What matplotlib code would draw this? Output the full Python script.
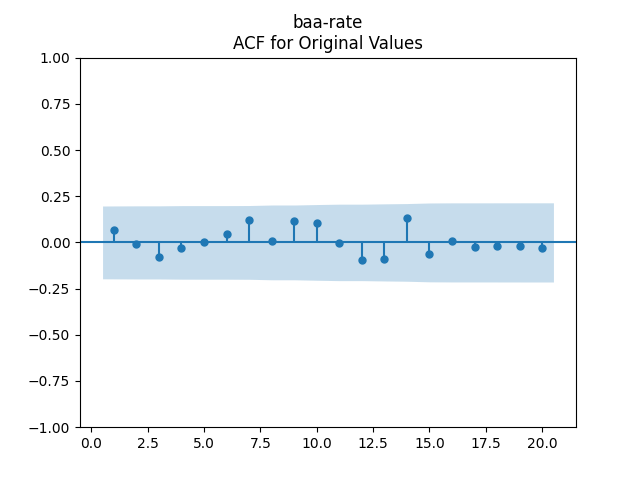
import numpy as np
import matplotlib
matplotlib.use('Agg')
import matplotlib.pyplot as plt

series_name = 'baa-rate'
n_obs = 99

lags = np.arange(1, 21)
acf_values = [0.066, -0.008, -0.077, -0.028, 0.001, 0.044, 0.120, 0.006,
              0.115, 0.104, -0.005, -0.097, -0.091, 0.131, -0.062, 0.008,
              -0.026, -0.021, -0.021, -0.032]

acf = np.array(acf_values)

# Bartlett confidence band around zero
cum = np.concatenate([[0.0], np.cumsum(acf[:-1] ** 2)])
se = np.sqrt((1 + 2 * cum) / n_obs)
band = 1.96 * se

fig, ax = plt.subplots(figsize=(6.4, 4.8), dpi=100)
ax.vlines(lags, 0, acf, color='C0')
ax.plot(lags, acf, 'o', color='C0', markersize=5)
ax.axhline(0, color='C0')

band_x = lags.astype(float).copy()
band_x[0] -= 0.5
band_x[-1] += 0.5
ax.fill_between(band_x, -band, band, alpha=0.25, linewidth=0, color='C0')

ax.margins(x=0.05)
ax.set_ylim(-1, 1)
ax.set_title('%s\nACF for Original Values' % series_name)

fig.savefig('out.png')
